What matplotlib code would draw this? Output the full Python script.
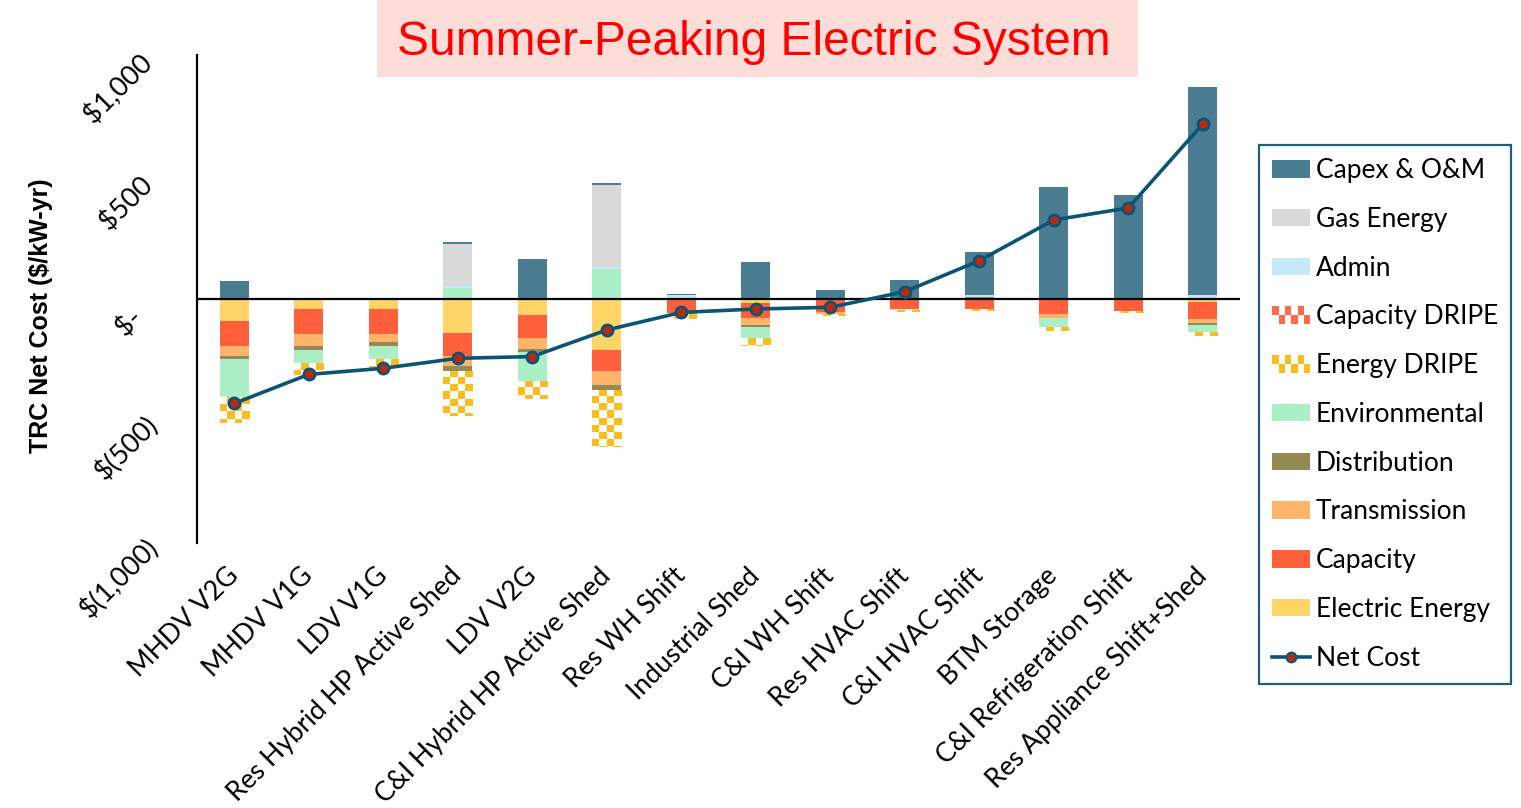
import numpy as np
import matplotlib.pyplot as plt
from matplotlib.patches import Patch, Rectangle
from matplotlib.lines import Line2D
from matplotlib.colors import ListedColormap
from matplotlib.legend_handler import HandlerBase

# TRC cost components per measure ($/kW-yr), negative values are benefits
measures = ['MHDV V2G', 'MHDV V1G', 'LDV V1G', 'Res Hybrid HP Active Shed', 'LDV V2G',
            'C&I Hybrid HP Active Shed', 'Res WH Shift', 'Industrial Shed', 'C&I WH Shift',
            'Res HVAC Shift', 'C&I HVAC Shift', 'BTM Storage', 'C&I Refrigeration Shift',
            'Res Appliance Shift+Shed']

electric_energy = [-90, -42, -42, -138, -67, -209, 0, -18, 0, 0, 0, -5, 0, -11]
capacity = [-102, -101, -101, -94, -93, -86, -59, -61, -55, -40, -42, -55, -49, -72]
transmission = [-41, -49, -34, -42, -46, -57, 0, -27, -7, 0, 0, -18, 0, -16]
distribution = [-14, -15, -15, -20, -10, -20, 0, -7, 0, 0, 8, 0, 0, -7]
environmental = [-156, -56, -55, 44, -120, 122, 0, -48, 0, -5, 0, -37, 0, -30]
energy_dripe = [-104, -50, -40, -187, -75, -235, -25, -31, -8, -10, -8, -18, -10, -15]
capacity_dripe = [0, 0, 0, 0, 0, 0, 0, 0, 0, 0, 0, 0, 0, 0]
admin = [0, 0, 0, 9, 0, 9, 15, 4, 0, 5, 8, 6, 4, 15]
gas_energy = [0, 0, 0, 172, 0, 337, 0, 0, 0, 0, 0, 0, 0, 0]
capex_om = [75, 0, 0, 8, 163, 8, 7, 146, 36, 74, 177, 455, 422, 852]
net_cost = [-428, -309, -284, -243, -236, -127, -55, -41, -34, 30, 157, 324, 373, 717]

# stacked from the zero line outward
series = [
    ('Electric Energy', electric_energy, '#FFD567', False),
    ('Capacity', capacity, '#FF603B', False),
    ('Transmission', transmission, '#FFB569', False),
    ('Distribution', distribution, '#948A54', False),
    ('Environmental', environmental, '#ABEFC6', False),
    ('Energy DRIPE', energy_dripe, '#FBBD1E', True),
    ('Capacity DRIPE', capacity_dripe, '#FF6B4A', True),
    ('Admin', admin, '#C5E9F8', False),
    ('Gas Energy', gas_energy, '#D9D9D9', False),
    ('Capex & O&M', capex_om, '#4A7C92', False),
]

line_color = '#0B5473'
width = 0.39
cell_x = width / 4
cell_y = 29

fig = plt.figure(figsize=(15.21, 8.08), dpi=100)
ax = fig.add_axes([197/1521, 265/808, 1043/1521, 488/808])

x = np.arange(len(measures))
pos_base = np.zeros(len(measures))
neg_base = np.zeros(len(measures))


def checker(ax, rect, color):
    x0, w = rect.get_x(), rect.get_width()
    y_lo = min(rect.get_y(), rect.get_y() + rect.get_height())
    y_hi = max(rect.get_y(), rect.get_y() + rect.get_height())
    if y_hi - y_lo <= 0:
        return
    nrows = int(np.ceil((y_hi - y_lo) / cell_y))
    grid = (np.add.outer(np.arange(nrows), np.arange(4)) % 2).astype(float)
    im = ax.imshow(grid, cmap=ListedColormap(['white', color]), vmin=0, vmax=1,
                   extent=(x0, x0 + w, y_hi - nrows * cell_y, y_hi), origin='upper',
                   aspect='auto', interpolation='nearest', zorder=2)
    im.set_clip_path(rect)


for name, vals, color, dripe in series:
    v = np.array(vals, dtype=float)
    bottom = np.where(v >= 0, pos_base, neg_base)
    bars = ax.bar(x, v, width, bottom=bottom, color='white' if dripe else color,
                  linewidth=0, zorder=2)
    if dripe:
        for r in bars:
            checker(ax, r, color)
    pos_base += np.where(v > 0, v, 0)
    neg_base += np.where(v < 0, v, 0)

ax.axhline(0, color='black', lw=1.6, zorder=3)
ax.plot(x, net_cost, color=line_color, lw=2.6, marker='o', markersize=8,
        markerfacecolor='#C0270F', markeredgecolor=line_color, markeredgewidth=2, zorder=4)

ax.set_xlim(-0.5, len(measures) - 0.5)
ax.set_ylim(-1000, 1000)
for s in ['top', 'right', 'bottom']:
    ax.spines[s].set_visible(False)
ax.spines['left'].set_linewidth(1.6)

ax.set_yticks([1000, 500, 0, -500, -1000])
ax.set_yticklabels(['$1,000 ', '$500 ', '$-   ', '$(500)', '$(1,000)'],
                   rotation=45, ha='right', va='center', rotation_mode='anchor',
                   fontsize=19.5, family='Lato')
ax.tick_params(axis='y', length=0, pad=31)

ax.set_xticks(x)
ax.set_xticklabels(measures, rotation=45, ha='right', va='center', rotation_mode='anchor',
                   fontsize=19.2, family='Lato')
ax.tick_params(axis='x', length=0, pad=21)

fig.text(41/1521, 1 - 316/808, 'TRC Net Cost ($/kW-yr)', rotation=90, ha='center', va='center',
         fontsize=18, fontweight='bold', family='Liberation Sans')

# title banner
fig.patches.append(Rectangle((377/1521, 1 - 77/808), 761/1521, 77/808, transform=fig.transFigure,
                             facecolor='#FCDDD7', edgecolor='none', zorder=0))
fig.text(754/1521, 1 - 55/808, 'Summer-Peaking Electric System', ha='center', va='baseline',
         color='#FF0000', fontsize=34.5, family='Liberation Sans')


class CheckerHandler(HandlerBase):
    def __init__(self, color):
        super().__init__()
        self.color = color

    def create_artists(self, legend, orig_handle, xdescent, ydescent, width, height, fontsize, trans):
        arts = [Rectangle((-xdescent, -ydescent), width, height, facecolor='white',
                          edgecolor='none', transform=trans)]
        ncol, nrow = 6, 2
        cw, ch = width / ncol, height / nrow
        for i in range(ncol):
            for j in range(nrow):
                if (i + j) % 2 == 1:
                    arts.append(Rectangle((-xdescent + i * cw, -ydescent + j * ch), cw, ch,
                                          facecolor=self.color, edgecolor='none', transform=trans))
        return arts


colors = {name: color for name, _, color, _ in series}
order = ['Capex & O&M', 'Gas Energy', 'Admin', 'Capacity DRIPE', 'Energy DRIPE', 'Environmental',
         'Distribution', 'Transmission', 'Capacity', 'Electric Energy']
handles = []
hmap = {}
for name in order:
    h = Patch(facecolor=colors[name], edgecolor='none')
    if 'DRIPE' in name:
        hmap[h] = CheckerHandler(colors[name])
    handles.append(h)
net_h = Line2D([], [], color=line_color, lw=2.6, marker='o', markersize=7,
               markerfacecolor='#C0270F', markeredgecolor=line_color, markeredgewidth=1.5)
handles.append(net_h)
labels = order + ['Net Cost']

leg = fig.legend(handles, labels, handler_map=hmap, loc='upper left',
                 bbox_to_anchor=(1259/1521, 1 - 145/808), borderaxespad=0,
                 prop={'family': 'Lato', 'size': 19}, handlelength=1.45, handleheight=0.65,
                 handletextpad=0.2, labelspacing=0.9, borderpad=0.5, fancybox=False,
                 framealpha=1)
leg.get_frame().set_edgecolor('#1F5F7A')
leg.get_frame().set_linewidth(1.6)

plt.savefig('out.png', dpi=100)
